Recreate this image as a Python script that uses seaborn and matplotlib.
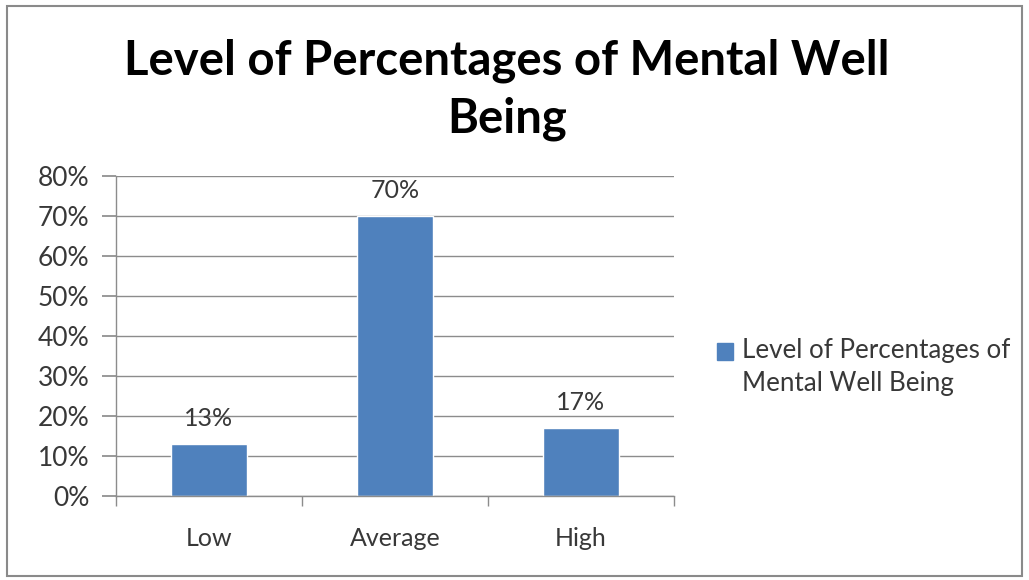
import matplotlib
matplotlib.use("Agg")
import matplotlib.pyplot as plt
import seaborn as sns
import pandas as pd
from matplotlib.patches import Rectangle, Patch
from matplotlib.legend_handler import HandlerPatch

categories = ["Low", "Average", "High"]
values = [13, 70, 17]
series_name = "Level of Percentages of Mental Well Being"
title_text = "Level of Percentages of Mental Well\nBeing"
yticks = [0, 10, 20, 30, 40, 50, 60, 70, 80]

sns.set_theme(style="white")
plt.rcParams['font.family'] = ['Lato', 'DejaVu Sans']

df = pd.DataFrame({"cat": categories, "val": values, "series": [series_name] * 3})

fig = plt.figure(figsize=(10.29, 5.8), dpi=100)
ax = fig.add_axes([116/1029, 1 - 496/580, 558/1029, 320/580])

bar_color = "#4F81BD"
txt_color = "#383838"
sns.barplot(data=df, x="cat", y="val", color=bar_color, width=0.41, ax=ax,
            saturation=1, legend=False)

ax.set_ylim(0, 80)
ax.set_xlim(-0.5, 2.5)
ax.set_yticks(yticks)
ax.set_yticklabels([f"{v}%" for v in yticks])
ax.yaxis.grid(True, color="#8c8c8c", linewidth=1.0)
ax.set_axisbelow(True)
ax.set_xlabel("")
ax.set_ylabel("")

for s in ["top", "right"]:
    ax.spines[s].set_visible(False)
for s in ["left", "bottom"]:
    ax.spines[s].set_color("#8c8c8c")
    ax.spines[s].set_linewidth(1.0)

ax.tick_params(axis="y", left=True, length=10, color="#8c8c8c", labelsize=19,
               labelcolor=txt_color, pad=9)
ax.tick_params(axis="x", which="major", bottom=False, length=0, labelsize=18,
               labelcolor=txt_color, pad=22)
ax.set_xticks([-0.5, 0.5, 1.5, 2.5], minor=True)
ax.tick_params(axis="x", which="minor", bottom=True, length=7, color="#8c8c8c")

for container in ax.containers:
    ax.bar_label(container, labels=[f"{v}%" for v in values], padding=10,
                 fontsize=18, color=txt_color)

fig.text(507/1029, 1 - 90/580, title_text, ha="center", va="center",
         fontsize=34, fontweight="bold", color="black", linespacing=1.38)


def top_aligned_patch(legend, orig_handle, xdescent, ydescent, width, height, fontsize):
    return Rectangle((-xdescent, -ydescent + 0.62 * fontsize), width, height)


handles = [Patch(facecolor=bar_color, edgecolor=bar_color, label="Level of Percentages of\nMental Well Being")]
leg = fig.legend(handles=handles, loc="center left", bbox_to_anchor=(694/1029, 1 - 367/580),
                 frameon=False, fontsize=18.7, handlelength=0.6, handleheight=0.6,
                 handletextpad=0.35, labelcolor=txt_color,
                 handler_map={Patch: HandlerPatch(patch_func=top_aligned_patch)})
for t in leg.get_texts():
    t.set_linespacing(1.4)

fig.patches.append(Rectangle((7/1029, 4/580), 1015/1029, 570/580, transform=fig.transFigure,
                             fill=False, edgecolor="#8a8a8a", linewidth=1.5))

fig.savefig("out.png", dpi=100)
